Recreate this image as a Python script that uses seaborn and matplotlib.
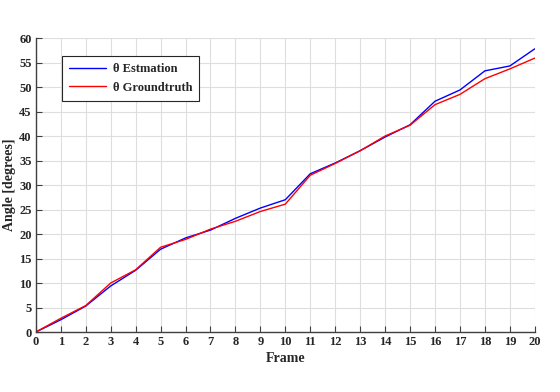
import numpy as np
import pandas as pd
import matplotlib
matplotlib.use("Agg")
import matplotlib.pyplot as plt
import seaborn as sns

# values
frames = list(range(21))
theta_est = [0.0, 2.5, 5.3, 9.4, 12.6, 16.9, 19.2, 20.8, 23.2, 25.3, 27.0,
             32.3, 34.5, 37.0, 39.8, 42.3, 47.1, 49.4, 53.3, 54.3, 57.8]
theta_gt = [0.0, 2.8, 5.4, 10.0, 12.7, 17.3, 18.9, 21.0, 22.6, 24.6, 26.1,
            32.0, 34.4, 37.0, 40.0, 42.2, 46.4, 48.5, 51.7, 53.7, 55.9]
series_names = ["θ Estmation", "θ Groundtruth"]
x_ticks = list(range(0, 21))
y_ticks = list(range(0, 61, 5))

df = pd.DataFrame({
    "Frame": frames * 2,
    "Angle": theta_est + theta_gt,
    "series": [series_names[0]] * len(frames) + [series_names[1]] * len(frames),
})

sns.set_style("whitegrid")
plt.rcParams["font.family"] = ["Liberation Serif", "DejaVu Serif"]
plt.rcParams["font.weight"] = "bold"

fig = plt.figure(figsize=(5.6, 3.92), dpi=100)
ax = fig.add_axes([0.064, 0.153, 0.891, 0.75])

sns.lineplot(data=df, x="Frame", y="Angle", hue="series",
             palette={series_names[0]: "#0000ff", series_names[1]: "#ff0000"},
             linewidth=1.0, ax=ax)

ax.set_xlim(0, 20)
ax.set_ylim(0, 60)
ax.set_xticks(x_ticks)
ax.set_yticks(y_ticks)
ax.grid(True, color="#dedede", linewidth=0.8)
ax.set_axisbelow(True)

for side in ["top", "right"]:
    ax.spines[side].set_visible(False)
for side in ["left", "bottom"]:
    ax.spines[side].set_color("#404040")
    ax.spines[side].set_linewidth(1.0)

ax.tick_params(axis="both", direction="in", length=4, width=0.8,
               color="#404040", labelsize=9, pad=3,
               left=True, bottom=True)
for lbl in ax.get_xticklabels() + ax.get_yticklabels():
    lbl.set_fontweight("bold")
    lbl.set_color("#262626")

ax.set_xlabel("Frame", fontsize=10, fontweight="bold", color="#262626", labelpad=3)
ax.set_ylabel("Angle [degrees]", fontsize=10, fontweight="bold", color="#262626", labelpad=2)

leg = ax.legend(loc="upper left", bbox_to_anchor=(0.04, 0.96), frameon=True,
                fancybox=False, edgecolor="#262626", framealpha=1,
                prop={"size": 9, "weight": "bold"}, handlelength=3.0,
                handletextpad=0.5, borderpad=0.55, labelspacing=0.55)
leg.get_frame().set_linewidth(0.8)

fig.savefig("out.png", dpi=100)
